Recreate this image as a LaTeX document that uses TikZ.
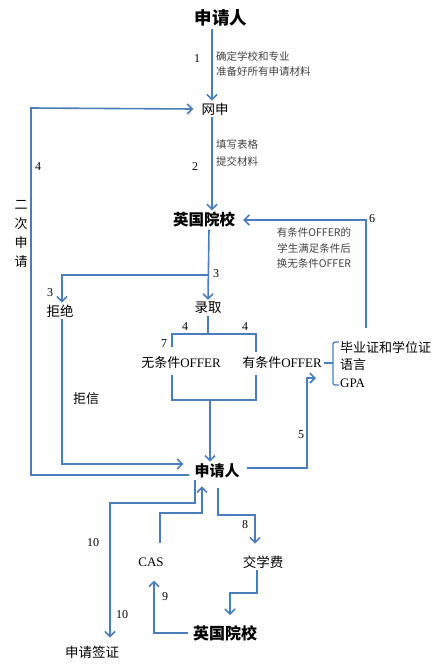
\documentclass[tikz,border=0pt]{standalone}
\usepackage{fontspec}
\setmainfont{Liberation Serif}
\newfontfamily\cjk{Noto Sans CJK SC}
\usepackage{tikz}
\usetikzlibrary{arrows.meta}
\definecolor{flowblue}{RGB}{74,126,187}
\definecolor{notegray}{RGB}{64,64,64}
\tikzset{link/.style={draw=flowblue,line width=1.6pt,line join=miter},
  flow/.style={link,-{Straight Barb[length=5pt,width=10pt,line width=1.6pt]}},
  head/.style={font=\cjk\bfseries\fontsize{#1}{#1}\selectfont,inner sep=2pt},
  lbl/.style={font=\cjk\fontsize{13.5}{15}\selectfont,inner sep=2pt},
  offer/.style={font=\fontsize{13}{15}\selectfont,inner sep=2pt},
  note/.style={font=\cjk\fontsize{10.5}{#1}\selectfont,text=notegray,inner sep=2pt},
  num/.style={font=\fontsize{12}{14}\selectfont,inner sep=1pt}}

\begin{document}
\begin{tikzpicture}[x=1pt,y=-1pt]
\useasboundingbox (0,0) rectangle (444,664);
% --- application stage
\node[head=17.5] (app1) at (221,18) {申请人};
\node[note=15,anchor=west,align=left] (note1) at (214,64) {确定学校和专业\\准备好所有申请材料};
\node[num] (n1) at (197,59) {1};
\node[lbl] (wang) at (215,109) {网申};
\node[note=17,anchor=west,align=left] (note2) at (214,153.5) {填写表格\\提交材料};
\node[num] (n2) at (195,167) {2};
\node[head=15.5] (uk1) at (204,220) {英国院校};
\node[num] (n4) at (38,167) {4};
\node[lbl,align=center,font=\cjk\fontsize{13}{19}\selectfont] (again) at (21,234) {二\\次\\申\\请};
% --- decision
\node[num] (n6) at (372,219) {6};
\node[note=15.5,align=center] (note6) at (314,248) {有条件OFFER的\\学生满足条件后\\换无条件OFFER};
\node[num] (n3a) at (216,274) {3};
\node[num] (n3b) at (50,293) {3};
\node[lbl] (jujue) at (60,311) {拒绝};
\node[lbl] (luqu) at (208,308) {录取};
\node[num] (n4a) at (185,327) {4};
\node[num] (n4b) at (245,327) {4};
\node[num] (n7) at (164,344) {7};
\node[offer] (uncond) at (181,363) {{\cjk 无条件}OFFER};
\node[offer] (cond) at (282,363) {{\cjk 有条件}OFFER};
\node[offer,anchor=west,align=left,font=\fontsize{13}{17.5}\selectfont] (req) at (338,364.5) {{\cjk 毕业证和学位证}\\{\cjk 语言}\\GPA};
\node[lbl,font=\cjk\fontsize{13}{15}\selectfont] (juxin) at (86,399) {拒信};
\node[num] (n5) at (301,435) {5};
% --- after the offer
\node[head=15] (app2) at (217,471) {申请人};
\node[num] (n8) at (245,525) {8};
\node[num] (n10a) at (93,543) {10};
\node[offer,font=\fontsize{13}{15}\selectfont] (cas) at (151,562) {CAS};
\node[lbl] (fee) at (263,562) {交学费};
\node[num] (n9) at (165,597) {9};
\node[num] (n10b) at (122,615) {10};
\node[head=16] (uk2) at (225,633) {英国院校};
\node[lbl] (visa) at (92,652) {申请签证};

\coordinate (lp) at (31,108);
\coordinate (br3) at (209,275);
\coordinate (split) at (208,334);
\coordinate (ul) at (172,347); \coordinate (ur) at (256,352);
\coordinate (ll) at (172,375); \coordinate (lr) at (256,375);
\coordinate (join) at (210,400);
\coordinate (c5) at (307,378); \coordinate (in5) at (316,378);
\coordinate (c6) at (366,328);
\coordinate (c10) at (110,503);
\coordinate (c9) at (202,513);
\coordinate (c8) at (255,515);
\coordinate (c11) at (230,593);

\draw[flow] ([xshift=-9pt]app1.south) -- ([xshift=-3pt]wang.north);
\draw[flow] ([xshift=-3pt]wang.south) -- ([xshift=8pt]uk1.north);
\draw[flow] ([xshift=5pt]uk1.south) -- (luqu.north);
\draw[flow] (br3) -| ([xshift=2pt]jujue.north);
\draw[flow] ([xshift=-3pt,yshift=-4pt]app2.west) -| (lp) -- ([xshift=-6pt]wang.west);
\draw[flow] ([xshift=2pt]jujue.south) |- ([xshift=-9pt,yshift=7pt]app2.west);
% offer box
\draw[link] (luqu.south) -- (split);
\draw[link] (ul) |- (split) -| (ur);
\draw[link] (ll) |- (join) -| (lr);
\draw[flow] (join) -- ([xshift=-7pt]app2.north);
% conditions bracket
\draw[link,line width=1.3pt,rounded corners=2pt] (339,342) -- (333,342) -- (333,385) -- (339,385);
\draw[link,line width=1.3pt] (333,363) -- (cond.east);
\draw[flow] ([xshift=5pt,yshift=3pt]app2.east) -| (c5) -- (in5);
\draw[flow] (c6) |- ([xshift=6pt]uk1.east);
% visa, CAS and fee
\draw[flow] ([xshift=-22pt]app2.south) |- (c10) -- ([xshift=18pt,yshift=6pt]visa.north);
\draw[flow] ([xshift=9pt,yshift=12pt]cas.north) |- (c9) -- ([xshift=-15pt,yshift=-6pt]app2.south);
\draw[flow] ([xshift=1pt,yshift=-8pt]app2.south) |- (c8) -- ([xshift=-8pt,yshift=10pt]fee.north);
\draw[flow] ([xshift=-6pt]fee.south) |- (c11) -- ([xshift=5pt,yshift=8pt]uk2.north);
\draw[flow] ([xshift=-3pt]uk2.west) -| ([xshift=3pt,yshift=-12pt]cas.south);
\end{tikzpicture}
\end{document}
